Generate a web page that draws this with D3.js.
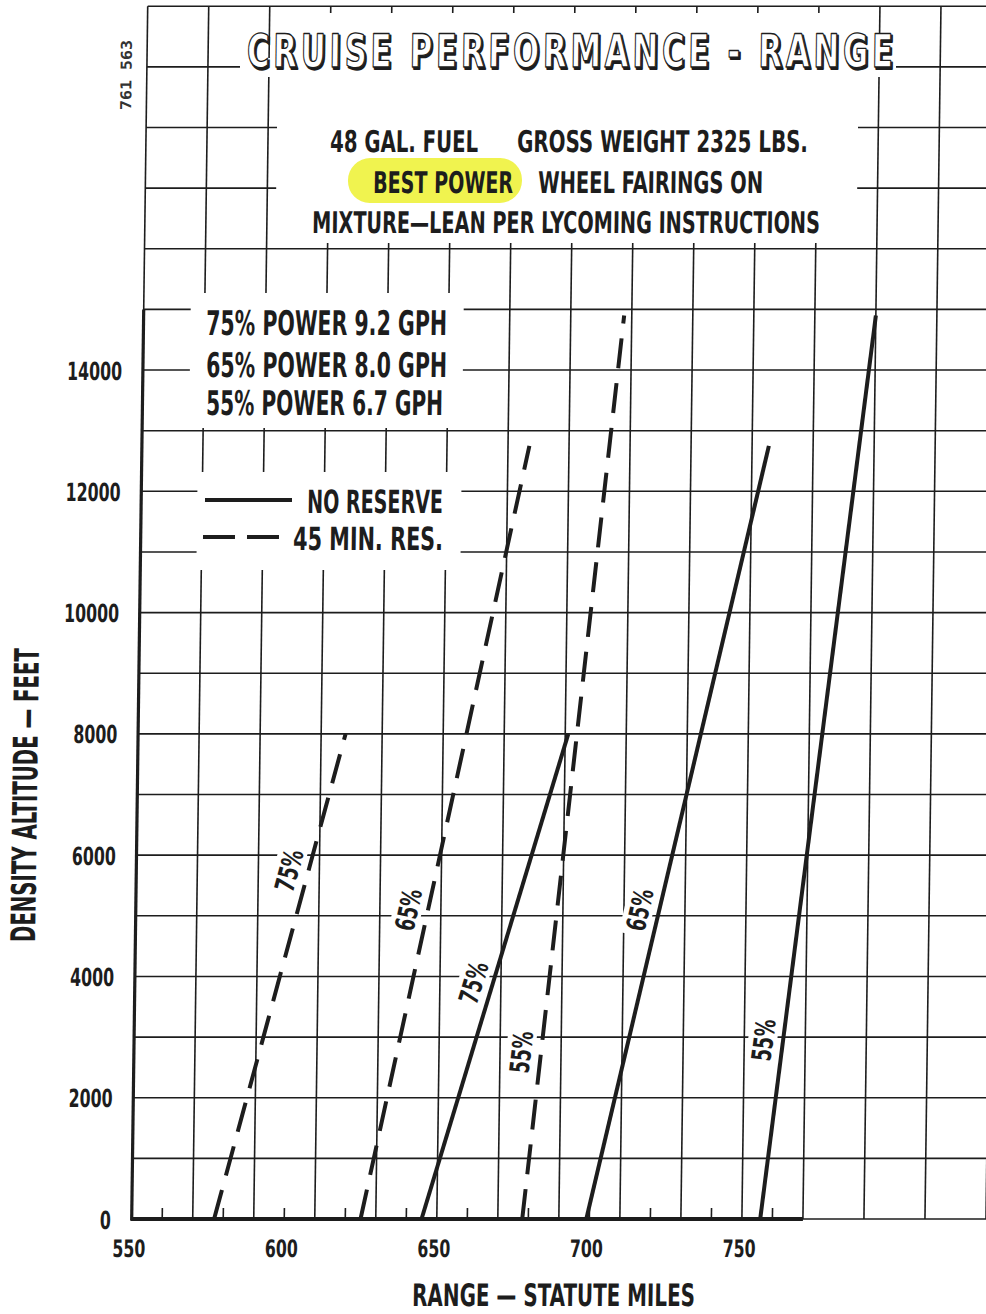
<!DOCTYPE html>
<html><head><meta charset="utf-8">
<script src="https://cdn.jsdelivr.net/npm/d3@7"></script>
<style>
html,body{margin:0;padding:0;background:#fff;}
svg{display:block;}
</style></head>
<body>
<svg id="chart" width="986" height="1314"></svg>
<script>
// ---------------- DATA ----------------
const powerSettings   = ["75%", "65%", "55%"];
const fuelFlowGph     = ["9.2", "8.0", "6.7"];
// range in statute miles at sea level and at the top of each curve
const noReserveRange0   = [645, 699, 756];
const noReserveRangeTop = [691, 755.5, 790];
const reserveRange0     = [577, 625, 678];
const reserveRangeTop   = [618, 677, 707.5];
const topAltitude       = [8000, 12750, 14900];   // feet, end of each curve
const labelAltNoRes     = [3900, 5100, 2950];      // altitude where the % label sits
const labelAltRes       = [5750, 5100, 2750];
const xTickLabels = [550, 600, 650, 700, 750];
const yTickLabels = [0, 2000, 4000, 6000, 8000, 10000, 12000, 14000];

// ---------------- LAYOUT ----------------
const INK = "#1d1d1d";
const COND = "'Liberation Sans Narrow','DejaVu Sans Condensed','Roboto Condensed','Arial Narrow',sans-serif";
const svg = d3.select("#chart");
svg.append("rect").attr("width",986).attr("height",1314).attr("fill","#fff");

const x = d3.scaleLinear().domain([550, 830]).range([131.7, 131.7 + 280*3.051]);
const y = d3.scaleLinear().domain([0, 20000]).range([1219, 1219 - 20000*0.06064]);
const Y0 = y(0);
const K = 0.0132;                       // slight skew of the scanned sheet
const skewDeg = Math.atan(-K) * 180 / Math.PI;
const sx = (xs, ys) => xs - K * (Y0 - ys);  // screen x -> pre-skew x

const g = svg.append("g")
  .attr("transform", `translate(0,${Y0}) skewX(${skewDeg}) translate(0,${-Y0})`);

// horizontal squeeze of a text node to a target length
function squeeze(t, len, tx, ty, rot) {
  const w = t.node().getComputedTextLength() || len;
  const k = len / w;
  t.attr("x", 0).attr("y", 0).attr("dy", null)
   .attr("transform", `translate(${tx},${ty})` + (rot ? ` rotate(${rot})` : "") + ` scale(${k},1)`);
  return t;
}

// grid
const gridG = g.append("g").attr("stroke", INK).attr("stroke-width", 1.6);
gridG.selectAll("line.v").data(d3.range(550, 831, 20)).join("line")
  .attr("x1", d => x(d)).attr("x2", d => x(d))
  .attr("y1", y(0)).attr("y2", y(20000));
gridG.selectAll("line.h").data(d3.range(0, 20001, 1000)).join("line")
  .attr("x1", x(550)).attr("x2", x(845))
  .attr("y1", d => y(d)).attr("y2", d => y(d));

// white-out boxes (screen coords)
const boxes = [[277,13,858,243],[240,58,896,77],[190,293,463,428],[197,472,461,570]];
boxes.forEach(([x1,y1,x2,y2]) => {
  const m = (y1+y2)/2;
  g.append("rect").attr("x", sx(x1,m)).attr("y", y1)
    .attr("width", x2-x1).attr("height", y2-y1).attr("fill", "#fff");
});

// thick axes
g.append("line").attr("x1", x(550)).attr("x2", x(550)).attr("y1", y(0)+1.5).attr("y2", y(15000))
  .attr("stroke", INK).attr("stroke-width", 3.2);
g.append("line").attr("x1", x(550)-1).attr("x2", x(770)).attr("y1", y(0)).attr("y2", y(0))
  .attr("stroke", INK).attr("stroke-width", 3.8);
g.selectAll("line.mt").data(d3.range(560, 770, 20)).join("line")
  .attr("x1", d => x(d)).attr("x2", d => x(d)).attr("y1", y(0)).attr("y2", y(0)-11)
  .attr("stroke", INK).attr("stroke-width", 1.6);

// axes labels
const yAxisG = g.append("g").attr("transform", `translate(${x(550)-20.7},0)`)
  .call(d3.axisLeft(y).tickValues(yTickLabels).tickSize(0).tickPadding(0).tickFormat(d3.format("d")));
yAxisG.select(".domain").remove();
yAxisG.selectAll("text")
  .attr("font-family", COND).attr("font-size", 25).attr("font-weight", "bold").attr("fill", INK)
  .attr("text-anchor", "end")
  .each(function(d) { squeeze(d3.select(this), String(d).length * 11, 0, 9); });

const xAxisG = g.append("g").attr("transform", `translate(0,${Y0})`)
  .call(d3.axisBottom(x).tickValues(xTickLabels).tickSize(0).tickFormat(d3.format("d")));
xAxisG.select(".domain").remove();
xAxisG.selectAll("text")
  .attr("font-family", COND).attr("font-size", 24).attr("font-weight", "bold").attr("fill", INK)
  .attr("text-anchor", "middle")
  .each(function() { squeeze(d3.select(this), 33, -3, 38); });

// text helper (screen coords, start anchored)
function txt(s, xs, base, size, len, opts = {}) {
  const t = g.append("text")
    .attr("font-family", opts.family || COND).attr("font-size", size)
    .attr("font-weight", opts.weight || "bold").attr("fill", opts.fill || INK)
    .attr("text-anchor", opts.anchor || "start").text(s);
  if (opts.ls) t.attr("letter-spacing", opts.ls);
  if (opts.stroke) t.attr("stroke", opts.stroke).attr("stroke-width", opts.sw).attr("stroke-linejoin","round");
  squeeze(t, len, sx(xs, base), base, opts.rot);
  return t;
}

// highlight
g.append("rect").attr("x", sx(348,180)).attr("y", 158).attr("width", 174).attr("height", 45)
  .attr("rx", 22).attr("fill", "#eef23c").attr("opacity", 0.9);

// title (outlined letters with shadow)
const TF = "'DejaVu Sans Condensed','DejaVu Sans',sans-serif";
txt("CRUISE PERFORMANCE - RANGE", 248.2, 68.5, 46, 650, {family: TF, fill: INK, stroke: INK, sw: 2, ls: 5});
txt("CRUISE PERFORMANCE - RANGE", 246.7, 67, 46, 650, {family: TF, fill: "#fff", stroke: INK, sw: 1.3, ls: 5});

// subtitle
txt("48 GAL. FUEL", 330, 152, 30, 148);
txt("GROSS WEIGHT 2325 LBS.", 517, 152, 30, 291);
txt("BEST POWER", 373, 193, 30, 140);
txt("WHEEL FAIRINGS ON", 538, 193, 30, 225);
txt("MIXTURE\u2014LEAN PER LYCOMING INSTRUCTIONS", 312, 233, 30, 508);

// legend
const legBase = [335, 377, 415];
powerSettings.forEach((p, i) => {
  txt(`${p} POWER ${fuelFlowGph[i]} GPH`, 206, legBase[i], 34, i === 2 ? 237 : 241);
});
g.append("line").attr("x1", sx(205,500)).attr("x2", sx(292,500)).attr("y1", 500).attr("y2", 500)
  .attr("stroke", INK).attr("stroke-width", 4);
txt("NO RESERVE", 307, 513, 32, 136);
g.append("line").attr("x1", sx(203,537)).attr("x2", sx(280,537)).attr("y1", 537).attr("y2", 537)
  .attr("stroke", INK).attr("stroke-width", 4).attr("stroke-dasharray", "32 12");
txt("45 MIN. RES.", 293, 550, 32, 150);

// axis titles
txt("DENSITY ALTITUDE \u2014 FEET", 37, 795, 34, 294, {anchor: "middle", rot: -90});
txt("RANGE \u2014 STATUTE MILES", 412, 1306, 31, 283);
txt("761 563", 131.5, 75, 15, 70, {anchor: "middle", rot: -90, family: "'DejaVu Sans Mono',monospace", fill: "#333"});

// curves
const line = d3.line().x(d => x(d[0])).y(d => y(d[1]));
const series = [];
powerSettings.forEach((p, i) => {
  series.push({p, dashed: false, pts: [[noReserveRange0[i], 0], [noReserveRangeTop[i], topAltitude[i]]], la: labelAltNoRes[i]});
  series.push({p, dashed: true,  pts: [[reserveRange0[i], 0], [reserveRangeTop[i], topAltitude[i]]], la: labelAltRes[i]});
});

// label knockouts
series.forEach(s => {
  const [a, b] = s.pts;
  const t = s.la / b[1];
  const r = a[0] + (b[0] - a[0]) * t;
  const ang = Math.atan2(y(b[1]) - y(a[1]), x(b[0]) - x(a[0])) * 180 / Math.PI;
  s.lx = x(r) - 20; s.ly = y(s.la); s.ang = ang;
  g.append("rect").attr("transform", `translate(${s.lx},${s.ly}) rotate(${ang})`)
    .attr("x", -26).attr("y", -15).attr("width", 52).attr("height", 29).attr("fill", "#fff");
});

series.forEach(s => {
  g.append("path").attr("d", line(s.pts)).attr("fill", "none").attr("stroke", INK)
    .attr("stroke-width", 4).attr("stroke-dasharray", s.dashed ? "30 15" : null);
});

series.forEach(s => {
  const t = g.append("text").attr("text-anchor", "middle")
    .attr("font-family", COND).attr("font-size", 27).attr("font-weight", "bold").attr("fill", INK)
    .text(s.p);
  const rad = s.ang * Math.PI / 180;
  const bx = s.lx - Math.sin(rad) * 10, by = s.ly + Math.cos(rad) * 10;
  squeeze(t, 42, bx, by, s.ang);
});
</script>
</body></html>
